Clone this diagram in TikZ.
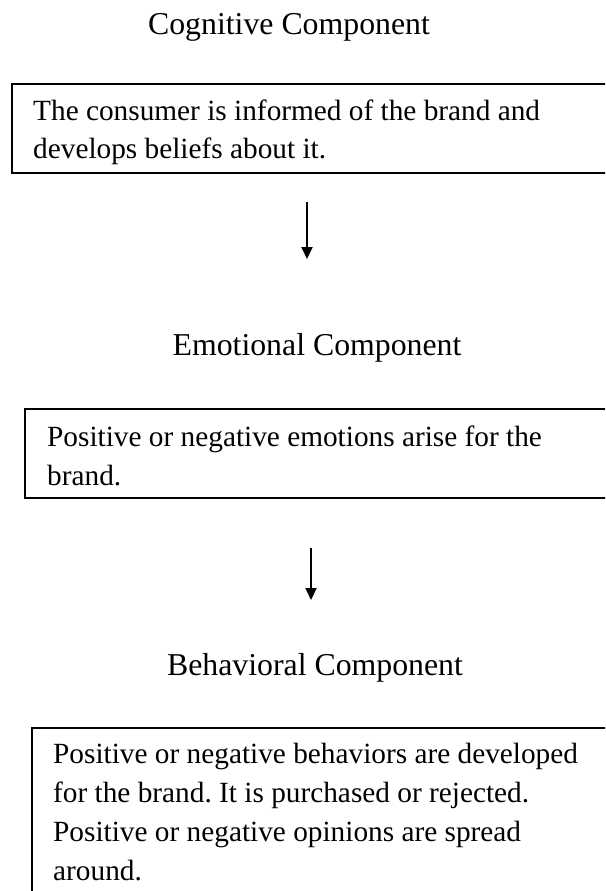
\documentclass[tikz,border=0pt]{standalone}
\usepackage{fontspec}
\setmainfont{Liberation Serif}
\frenchspacing
\usetikzlibrary{arrows.meta}
\begin{document}
\begin{tikzpicture}[x=1pt,y=-1pt,
  heading/.style={anchor=base,inner sep=0pt,font=\fontsize{31.8}{38}\selectfont},
  bodyline/.style={anchor=base west,inner sep=0pt,font=\fontsize{29.3}{38.5}\selectfont},
  framebox/.style={draw=black,line width=2pt},
  flow/.style={line width=2pt,-{Triangle[length=12pt,width=11pt]}}]
\useasboundingbox (0,0) rectangle (605,891);
\clip (0,0) rectangle (605,891);

% Cognitive component
\node[heading] (h1) at (289,35) {Cognitive Component};
\draw[framebox] (12,84) rectangle (640,173);
\node[bodyline] (t1a) at (33,120) {The consumer is informed of the brand and};
\node[bodyline] (t1b) at (33,158) {develops beliefs about it.};

\coordinate (a1s) at (307,202);
\coordinate (a1e) at (307,259);
\draw[flow] (a1s) -- (a1e);

% Emotional component
\node[heading] (h2) at (317,355) {Emotional Component};
\draw[framebox] (25,409) rectangle (640,498);
\node[bodyline] (t2a) at (47,446) {Positive or negative emotions arise for the};
\node[bodyline] (t2b) at (47,485) {brand.};

\coordinate (a2s) at (311,548);
\coordinate (a2e) at (311,600);
\draw[flow] (a2s) -- (a2e);

% Behavioral component
\node[heading] (h3) at (315,675) {Behavioral Component};
\draw[framebox] (32,728) rectangle (640,920);
\node[bodyline] (t3a) at (53,763) {Positive or negative behaviors are developed};
\node[bodyline] (t3b) at (53,802) {for the brand. It is purchased or rejected.};
\node[bodyline] (t3c) at (53,841) {Positive or negative opinions are spread};
\node[bodyline] (t3d) at (53,880) {around.};
\end{tikzpicture}
\end{document}
